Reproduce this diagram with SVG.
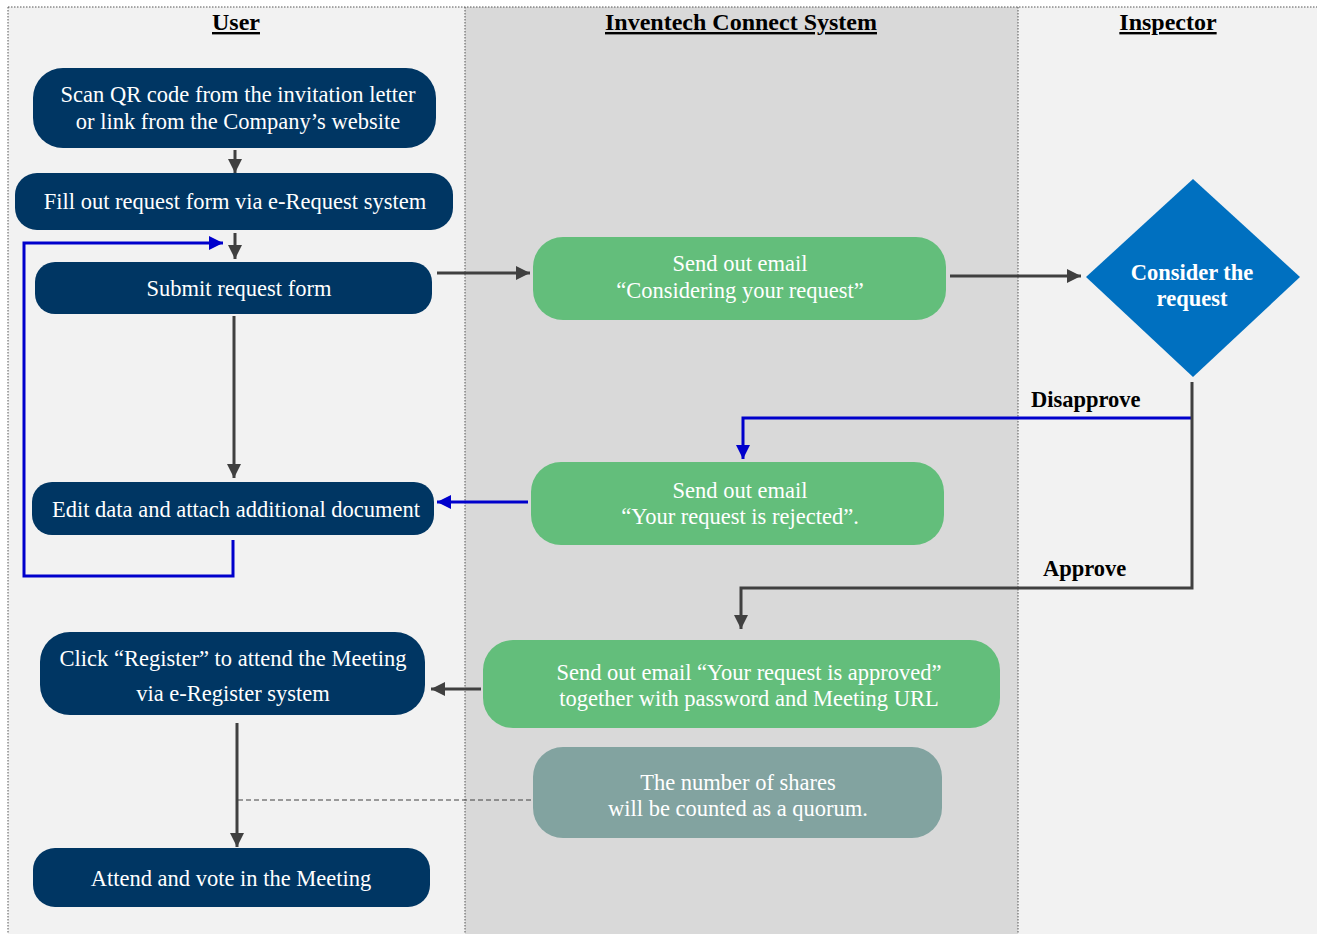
<svg xmlns="http://www.w3.org/2000/svg" width="1317" height="934" viewBox="0 0 1317 934">
<defs>
<style>
.lane-l{fill:#f2f2f2}
.lane-m{fill:#d9d9d9}
.border{stroke:#555;stroke-width:1;stroke-dasharray:1.5 1.5;fill:none}
.hdr{font-family:"Liberation Serif","Times New Roman",serif;font-weight:bold;font-size:24px;fill:#000;text-anchor:middle;text-decoration:underline}
.navy{fill:#003663}
.green{fill:#63be7b}
.teal{fill:#82a3a0}
.t{font-family:"Liberation Serif","Times New Roman",serif;font-size:22.5px;fill:#fff;text-anchor:middle;dominant-baseline:central}
.tb{font-family:"Liberation Serif","Times New Roman",serif;font-size:22.5px;font-weight:bold;fill:#fff;text-anchor:middle;dominant-baseline:central}
.lbl{font-family:"Liberation Serif","Times New Roman",serif;font-size:22.5px;font-weight:bold;fill:#000}
.dk{stroke:#404040;stroke-width:3;fill:none}
.bl{stroke:#0000cc;stroke-width:3;fill:none}
.dash{stroke:#404040;stroke-width:1;stroke-dasharray:5 3;fill:none}
</style>
<marker id="ad" markerUnits="userSpaceOnUse" markerWidth="16" markerHeight="16" refX="14" refY="8" orient="auto"><path d="M0,1 L14,8 L0,15 Z" fill="#404040"/></marker>
<marker id="ab" markerUnits="userSpaceOnUse" markerWidth="16" markerHeight="16" refX="14" refY="8" orient="auto"><path d="M0,1 L14,8 L0,15 Z" fill="#0000cc"/></marker>
</defs>
<rect x="0" y="0" width="1317" height="934" fill="#ffffff"/>
<g id="lanes">
<rect class="lane-l" x="8" y="7" width="457" height="927"/>
<rect class="lane-m" x="465" y="7" width="553" height="927"/>
<rect class="lane-l" x="1018" y="7" width="299" height="927"/>
<line class="border" x1="8" y1="7" x2="1317" y2="7"/>
<line class="border" x1="8" y1="7" x2="8" y2="934"/>
<line class="border" x1="465" y1="7" x2="465" y2="934"/>
<line class="border" x1="1018" y1="7" x2="1018" y2="934"/>
<text class="hdr" x="236" y="30">User</text>
<text class="hdr" x="741" y="30">Inventech Connect System</text>
<text class="hdr" x="1168" y="30">Inspector</text>
</g>
<g id="connectors">
<line class="dk" x1="235" y1="150" x2="235" y2="173" marker-end="url(#ad)"/>
<line class="dk" x1="235" y1="233" x2="235" y2="259" marker-end="url(#ad)"/>
<polyline class="bl" points="233,540 233,576 24,576 24,243 223,243" marker-end="url(#ab)"/>
<line class="dk" x1="437" y1="273" x2="530" y2="273" marker-end="url(#ad)"/>
<line class="dk" x1="950" y1="276" x2="1081" y2="276" marker-end="url(#ad)"/>
<line class="dk" x1="234" y1="316" x2="234" y2="478" marker-end="url(#ad)"/>
<polyline class="bl" points="1191,418 743,418 743,459" marker-end="url(#ab)"/>
<polyline class="dk" points="1192,382 1192,588 741,588 741,629" marker-end="url(#ad)"/>
<line class="bl" x1="528" y1="502" x2="437" y2="502" marker-end="url(#ab)"/>
<line class="dk" x1="481" y1="689" x2="431" y2="689" marker-end="url(#ad)"/>
<line class="dk" x1="237" y1="723" x2="237" y2="847" marker-end="url(#ad)"/>
<line class="dash" x1="238" y1="800" x2="531" y2="800"/>
<text class="lbl" x="1031" y="407">Disapprove</text>
<text class="lbl" x="1043" y="576">Approve</text>
</g>
<g id="n-scan">
<rect class="navy" x="33" y="68" width="403" height="80" rx="30"/>
<text class="t" x="238" y="94">Scan QR code from the invitation letter</text>
<text class="t" x="238" y="121">or link from the Company’s website</text>
</g>
<g id="n-fill">
<rect class="navy" x="15" y="173" width="438" height="57" rx="22"/>
<text class="t" x="235" y="201">Fill out request form via e-Request system</text>
</g>
<g id="n-submit">
<rect class="navy" x="35" y="262" width="397" height="52" rx="20"/>
<text class="t" x="239" y="288">Submit request form</text>
</g>
<g id="n-edit">
<rect class="navy" x="32" y="482" width="402" height="53" rx="20"/>
<text class="t" x="236" y="509">Edit data and attach additional document</text>
</g>
<g id="n-register">
<rect class="navy" x="40" y="632" width="385" height="83" rx="30"/>
<text class="t" x="233" y="658">Click “Register” to attend the Meeting</text>
<text class="t" x="233" y="693">via e-Register system</text>
</g>
<g id="n-attend">
<rect class="navy" x="33" y="848" width="397" height="59" rx="22"/>
<text class="t" x="231" y="878">Attend and vote in the Meeting</text>
</g>
<g id="n-considering">
<rect class="green" x="533" y="237" width="413" height="83" rx="30"/>
<text class="t" x="740" y="263">Send out email</text>
<text class="t" x="740" y="290">“Considering your request”</text>
</g>
<g id="n-rejected">
<rect class="green" x="531" y="462" width="413" height="83" rx="30"/>
<text class="t" x="740" y="490">Send out email</text>
<text class="t" x="740" y="516">“Your request is rejected”.</text>
</g>
<g id="n-approved">
<rect class="green" x="483" y="640" width="517" height="88" rx="30"/>
<text class="t" x="749" y="672">Send out email “Your request is approved”</text>
<text class="t" x="749" y="698">together with password and Meeting URL</text>
</g>
<g id="n-quorum">
<rect class="teal" x="533" y="747" width="409" height="91" rx="30"/>
<text class="t" x="738" y="782">The number of shares</text>
<text class="t" x="738" y="808">will be counted as a quorum.</text>
</g>
<g id="n-consider">
<polygon fill="#0070c0" points="1193,179 1300,277 1193,377 1086,277"/>
<text class="tb" x="1192" y="272">Consider the</text>
<text class="tb" x="1192" y="298">request</text>
</g>
</svg>
